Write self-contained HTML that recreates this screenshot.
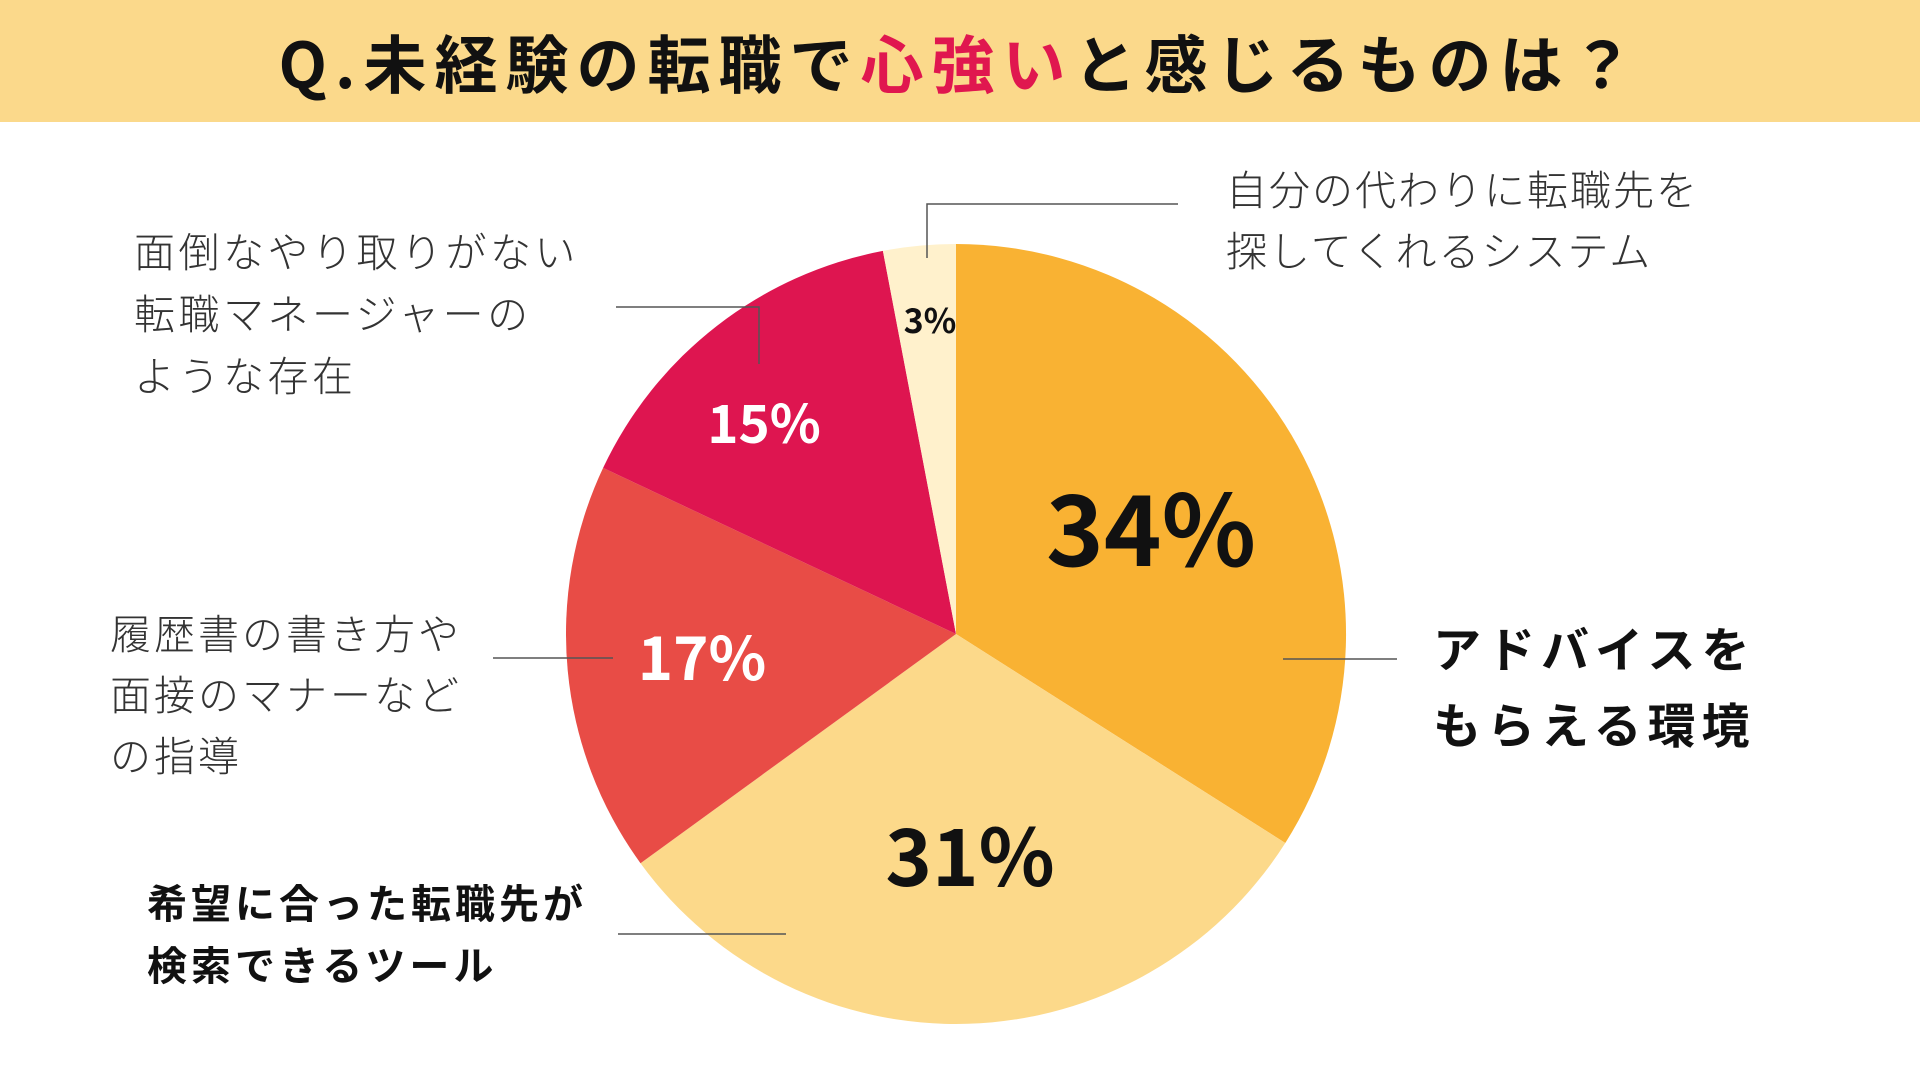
<!DOCTYPE html>
<html><head><meta charset="utf-8"><style>
html,body{margin:0;padding:0;background:#fff;}
svg{display:block;}
text{font-family:"Liberation Sans","Noto Sans CJK JP",sans-serif;}
.lt{font-family:"Noto Sans CJK JP",sans-serif;font-weight:300;fill:#333;}
.bd{font-family:"Noto Sans CJK JP",sans-serif;font-weight:700;fill:#111;}
.num{font-family:"Noto Sans CJK JP","Liberation Sans",sans-serif;font-weight:700;text-anchor:middle;}
</style></head><body>
<svg width="1920" height="1080" viewBox="0 0 1920 1080">
<rect x="0" y="0" width="1920" height="122" fill="#fbd98b"/>
<text x="960" y="88" text-anchor="middle" font-size="63" letter-spacing="8" class="bd" style="fill:#111">Q.未経験の転職で<tspan fill="#e0174f">心強い</tspan>と感じるものは？</text>

<path d="M956,634 L956,244 A390,390 0 0 1 1285.3,843 Z" fill="#f9b233"/>
<path d="M956,634 L1285.3,843 A390,390 0 0 1 640.5,863.2 Z" fill="#fcd98a"/>
<path d="M956,634 L640.5,863.2 A390,390 0 0 1 603.1,467.9 Z" fill="#e84c46"/>
<path d="M956,634 L603.1,467.9 A390,390 0 0 1 882.9,250.9 Z" fill="#de1550"/>
<path d="M956,634 L882.9,250.9 A390,390 0 0 1 956,244 Z" fill="#fff1cc"/>

<text x="1151" y="566" font-size="98" class="num" fill="#111">34%</text>
<text x="970" y="886" font-size="79" class="num" fill="#111">31%</text>
<text x="702" y="680" font-size="60" class="num" fill="#fff">17%</text>
<text x="764" y="443" font-size="53" class="num" fill="#fff">15%</text>
<text x="930" y="333" font-size="34" class="num" fill="#111">3%</text>

<g stroke="#555" stroke-width="1.5" fill="none">
<line x1="1283" y1="659" x2="1397" y2="659"/>
<line x1="618" y1="934" x2="786" y2="934"/>
<line x1="493" y1="658" x2="613" y2="658"/>
<polyline points="616,307 759,307 759,364"/>
<polyline points="1178,204 927,204 927,258"/>
</g>

<text x="1433" y="667" font-size="48" class="bd" letter-spacing="6">アドバイスを</text>
<text x="1433" y="743" font-size="48" class="bd" letter-spacing="6">もらえる環境</text>

<text x="147" y="918" font-size="40" class="bd" letter-spacing="4">希望に合った転職先が</text>
<text x="147" y="980" font-size="40" class="bd" letter-spacing="4">検索できるツール</text>

<text x="110" y="649" font-size="41" class="lt" letter-spacing="3">履歴書の書き方や</text>
<text x="110" y="710" font-size="41" class="lt" letter-spacing="3">面接のマナーなど</text>
<text x="110" y="771" font-size="41" class="lt" letter-spacing="3">の指導</text>

<text x="134" y="267" font-size="41" class="lt" letter-spacing="3.5">面倒なやり取りがない</text>
<text x="134" y="329" font-size="41" class="lt" letter-spacing="3.5">転職マネージャーの</text>
<text x="134" y="391" font-size="41" class="lt" letter-spacing="3.5">ような存在</text>

<text x="1226" y="205" font-size="41" class="lt" letter-spacing="2">自分の代わりに転職先を</text>
<text x="1226" y="266" font-size="41" class="lt" letter-spacing="2">探してくれるシステム</text>
</svg>
</body></html>
